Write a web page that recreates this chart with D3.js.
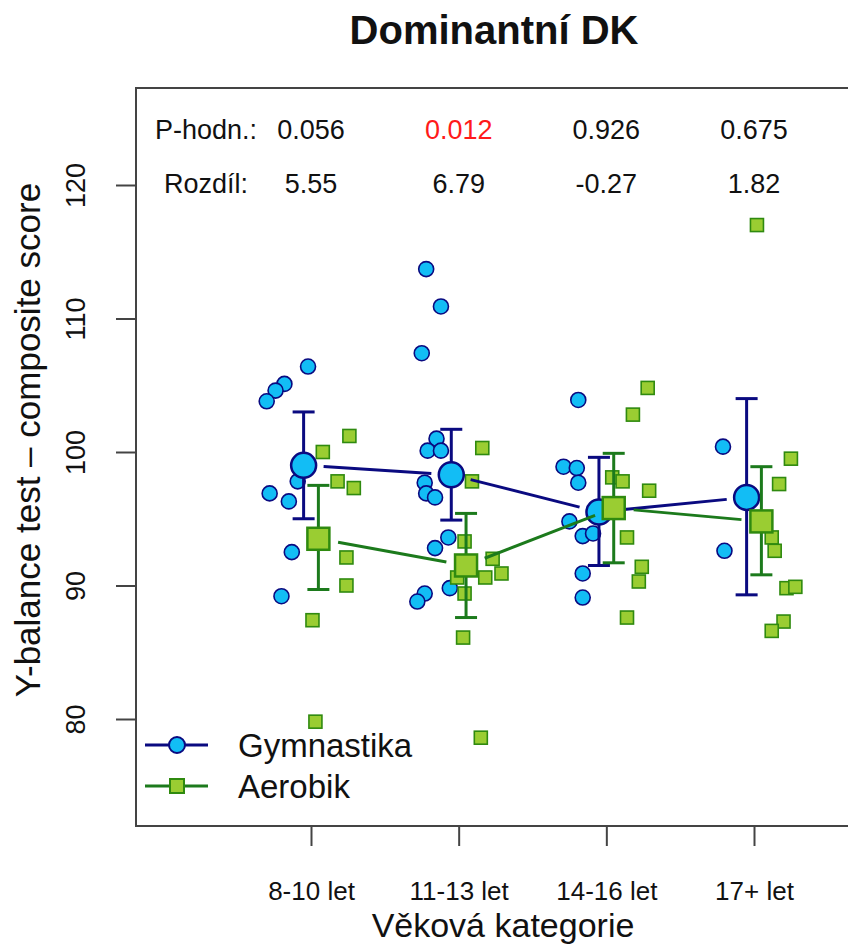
<!DOCTYPE html>
<html>
<head>
<meta charset="utf-8">
<script src="https://cdn.jsdelivr.net/npm/d3@7"></script>
<style>
  body { margin: 0; background: #fff; }
  text { font-family: "Liberation Sans", Arial, sans-serif; fill: #111; }
</style>
</head>
<body>
<div id="chart"></div>
<script>
// categories and summary rows
const categories = ["8-10 let", "11-13 let", "14-16 let", "17+ let"];
const pValues = ["0.056", "0.012", "0.926", "0.675"];
const differences = ["5.55", "6.79", "-0.27", "1.82"];
const yTicks = [80, 90, 100, 110, 120];

// group means with error bar ends
const gymMean = [99.0, 98.3, 95.5, 96.6];
const gymLow = [95.0, 94.9, 91.5, 89.3];
const gymHigh = [103.0, 101.7, 99.6, 104.0];
const aerMean = [93.5, 91.5, 95.8, 94.8];
const aerLow = [89.7, 87.6, 91.7, 90.8];
const aerHigh = [97.5, 95.4, 99.9, 98.9];

// individual scores: [category index, score, jitter in category units]
const gymPoints = [
  [0, 106.4, -0.02], [0, 105.1, -0.18], [0, 104.6, -0.24], [0, 103.8, -0.30],
  [0, 97.8, -0.09], [0, 96.9, -0.28], [0, 96.3, -0.15], [0, 92.5, -0.13], [0, 89.2, -0.20],
  [1, 113.7, -0.22], [1, 110.9, -0.12], [1, 107.4, -0.25], [1, 101.0, -0.15],
  [1, 100.1, -0.21], [1, 100.1, -0.12], [1, 97.7, -0.23], [1, 96.9, -0.22],
  [1, 96.6, -0.16], [1, 93.6, -0.07], [1, 92.8, -0.16], [1, 89.8, -0.06],
  [1, 89.4, -0.23], [1, 88.8, -0.28],
  [2, 103.9, -0.19], [2, 98.9, -0.29], [2, 98.8, -0.20], [2, 97.7, -0.19],
  [2, 94.8, -0.25], [2, 93.7, -0.16], [2, 93.9, -0.09], [2, 90.9, -0.16], [2, 89.1, -0.16],
  [3, 100.4, -0.21], [3, 92.6, -0.20]
];
const aerPoints = [
  [0, 101.2, 0.26], [0, 100.0, 0.08], [0, 97.8, 0.18], [0, 97.3, 0.29],
  [0, 92.1, 0.24], [0, 90.0, 0.24], [0, 87.4, 0.01], [0, 79.8, 0.03],
  [1, 100.3, 0.16], [1, 97.8, 0.09], [1, 93.3, 0.04], [1, 92.0, 0.23],
  [1, 90.6, 0.18], [1, 90.9, 0.29], [1, 90.6, -0.01], [1, 89.4, 0.04],
  [1, 86.1, 0.03], [1, 78.6, 0.15],
  [2, 104.8, 0.28], [2, 102.8, 0.18], [2, 98.1, 0.04], [2, 97.8, 0.11],
  [2, 97.1, 0.29], [2, 93.6, 0.14], [2, 91.4, 0.24], [2, 90.3, 0.22], [2, 87.6, 0.14],
  [3, 117.0, 0.02], [3, 99.5, 0.25], [3, 97.6, 0.17], [3, 93.6, 0.12],
  [3, 92.6, 0.14], [3, 89.8, 0.22], [3, 89.9, 0.28], [3, 87.3, 0.20], [3, 86.6, 0.12]
];

const W = 848, H = 946;
const plotLeft = 136, plotTop = 88, plotBottom = 826;

const svg = d3.select("#chart").append("svg")
  .attr("width", W).attr("height", H);

const x = d3.scaleLinear().domain([0, 3]).range([311, 754]);
const y = d3.scaleLinear().domain([80, 120]).range([719, 185]);

const blueFill = "#12bdf5", blueStroke = "#0a0a80";
const greenFill = "#9acd32", greenStroke = "#2f8a0f", greenLine = "#1c7a1c";
const meanShift = 0.05;

// title
svg.append("text")
  .attr("x", 494).attr("y", 44)
  .attr("text-anchor", "middle")
  .style("font-size", "40px").style("font-weight", "bold")
  .text("Dominantní DK");

// frame
svg.append("rect")
  .attr("x", plotLeft).attr("y", plotTop)
  .attr("width", 740).attr("height", plotBottom - plotTop)
  .attr("fill", "none").attr("stroke", "#444").attr("stroke-width", 2);

// y axis
const yAxis = svg.append("g")
  .attr("transform", `translate(${plotLeft},0)`)
  .call(d3.axisLeft(y).tickValues(yTicks).tickSize(20).tickFormat(d3.format("d")));
yAxis.select(".domain").remove();
yAxis.selectAll("line").attr("stroke", "#444").attr("stroke-width", 2);
yAxis.selectAll("text")
  .attr("transform", "rotate(-90)")
  .attr("x", 0).attr("y", -51).attr("dy", 0)
  .attr("text-anchor", "middle")
  .style("font-size", "27px").style("font-family", "Liberation Sans, Arial, sans-serif")
  .attr("fill", "#111");

// x axis
const xAxis = svg.append("g")
  .attr("transform", `translate(0,${plotBottom})`)
  .call(d3.axisBottom(x).tickValues([0, 1, 2, 3]).tickSize(20).tickFormat(i => categories[i]));
xAxis.select(".domain").remove();
xAxis.selectAll("line").attr("stroke", "#444").attr("stroke-width", 2);
xAxis.selectAll("text")
  .attr("y", 74).attr("dy", 0)
  .style("font-size", "26px").style("font-family", "Liberation Sans, Arial, sans-serif")
  .attr("fill", "#111");

// axis titles
svg.append("text")
  .attr("x", 503).attr("y", 937)
  .attr("text-anchor", "middle")
  .style("font-size", "34px")
  .text("Věková kategorie");

svg.append("text")
  .attr("transform", "translate(40,440) rotate(-90)")
  .attr("text-anchor", "middle")
  .style("font-size", "35px")
  .text("Y-balance test \u2013 composite score");

// p-values and differences
svg.append("text").attr("x", 206).attr("y", 139).attr("text-anchor", "middle")
  .style("font-size", "27px").text("P-hodn.:");
svg.append("text").attr("x", 206).attr("y", 193).attr("text-anchor", "middle")
  .style("font-size", "27px").text("Rozdíl:");

svg.selectAll(".pval").data(pValues).join("text")
  .attr("class", "pval")
  .attr("x", (d, i) => x(i)).attr("y", 139)
  .attr("text-anchor", "middle")
  .style("font-size", "27px")
  .style("fill", d => d === "0.012" ? "#ff1a1a" : "#111")
  .text(d => d);

svg.selectAll(".diff").data(differences).join("text")
  .attr("class", "diff")
  .attr("x", (d, i) => x(i)).attr("y", 193)
  .attr("text-anchor", "middle")
  .style("font-size", "27px")
  .text(d => d);

// individual points
svg.append("g").selectAll("circle").data(gymPoints).join("circle")
  .attr("cx", d => x(d[0] + d[2])).attr("cy", d => y(d[1]))
  .attr("r", 7.5)
  .attr("fill", blueFill).attr("stroke", blueStroke).attr("stroke-width", 1.6);

svg.append("g").selectAll("rect").data(aerPoints).join("rect")
  .attr("x", d => x(d[0] + d[2]) - 6.5).attr("y", d => y(d[1]) - 6.5)
  .attr("width", 13).attr("height", 13)
  .attr("fill", greenFill).attr("stroke", greenStroke).attr("stroke-width", 1.6);

// mean lines with gaps, error bars, mean markers
function drawGroup(means, lows, highs, shift, lineColor, marker) {
  const g = svg.append("g");
  const pts = means.map((m, i) => [x(i + shift), y(m)]);
  const gap = 20;
  for (let i = 0; i < pts.length - 1; i++) {
    const [x1, y1] = pts[i], [x2, y2] = pts[i + 1];
    const len = Math.hypot(x2 - x1, y2 - y1);
    const ux = (x2 - x1) / len, uy = (y2 - y1) / len;
    g.append("line")
      .attr("x1", x1 + ux * gap).attr("y1", y1 + uy * gap)
      .attr("x2", x2 - ux * gap).attr("y2", y2 - uy * gap)
      .attr("stroke", lineColor).attr("stroke-width", 3);
  }
  means.forEach((m, i) => {
    const cx = x(i + shift);
    g.append("line")
      .attr("x1", cx).attr("x2", cx)
      .attr("y1", y(lows[i])).attr("y2", y(highs[i]))
      .attr("stroke", lineColor).attr("stroke-width", 3);
    [lows[i], highs[i]].forEach(v => {
      g.append("line")
        .attr("x1", cx - 11).attr("x2", cx + 11)
        .attr("y1", y(v)).attr("y2", y(v))
        .attr("stroke", lineColor).attr("stroke-width", 3);
    });
  });
  means.forEach((m, i) => marker(g, x(i + shift), y(m)));
}

drawGroup(gymMean, gymLow, gymHigh, -meanShift, blueStroke, (g, cx, cy) => {
  g.append("circle").attr("cx", cx).attr("cy", cy).attr("r", 12.5)
    .attr("fill", blueFill).attr("stroke", blueStroke).attr("stroke-width", 2.5);
});
drawGroup(aerMean, aerLow, aerHigh, meanShift, greenLine, (g, cx, cy) => {
  g.append("rect").attr("x", cx - 11).attr("y", cy - 11)
    .attr("width", 22).attr("height", 22)
    .attr("fill", greenFill).attr("stroke", greenStroke).attr("stroke-width", 2.5);
});

// legend
const legend = svg.append("g");
legend.append("line").attr("x1", 145).attr("x2", 208).attr("y1", 745).attr("y2", 745)
  .attr("stroke", blueStroke).attr("stroke-width", 3);
legend.append("circle").attr("cx", 177).attr("cy", 745).attr("r", 8)
  .attr("fill", blueFill).attr("stroke", blueStroke).attr("stroke-width", 2);
legend.append("text").attr("x", 238).attr("y", 757).style("font-size", "33px").text("Gymnastika");

legend.append("line").attr("x1", 145).attr("x2", 208).attr("y1", 786).attr("y2", 786)
  .attr("stroke", greenLine).attr("stroke-width", 3);
legend.append("rect").attr("x", 170).attr("y", 779).attr("width", 14).attr("height", 14)
  .attr("fill", greenFill).attr("stroke", greenStroke).attr("stroke-width", 2);
legend.append("text").attr("x", 238).attr("y", 798).style("font-size", "33px").text("Aerobik");
</script>
</body>
</html>
